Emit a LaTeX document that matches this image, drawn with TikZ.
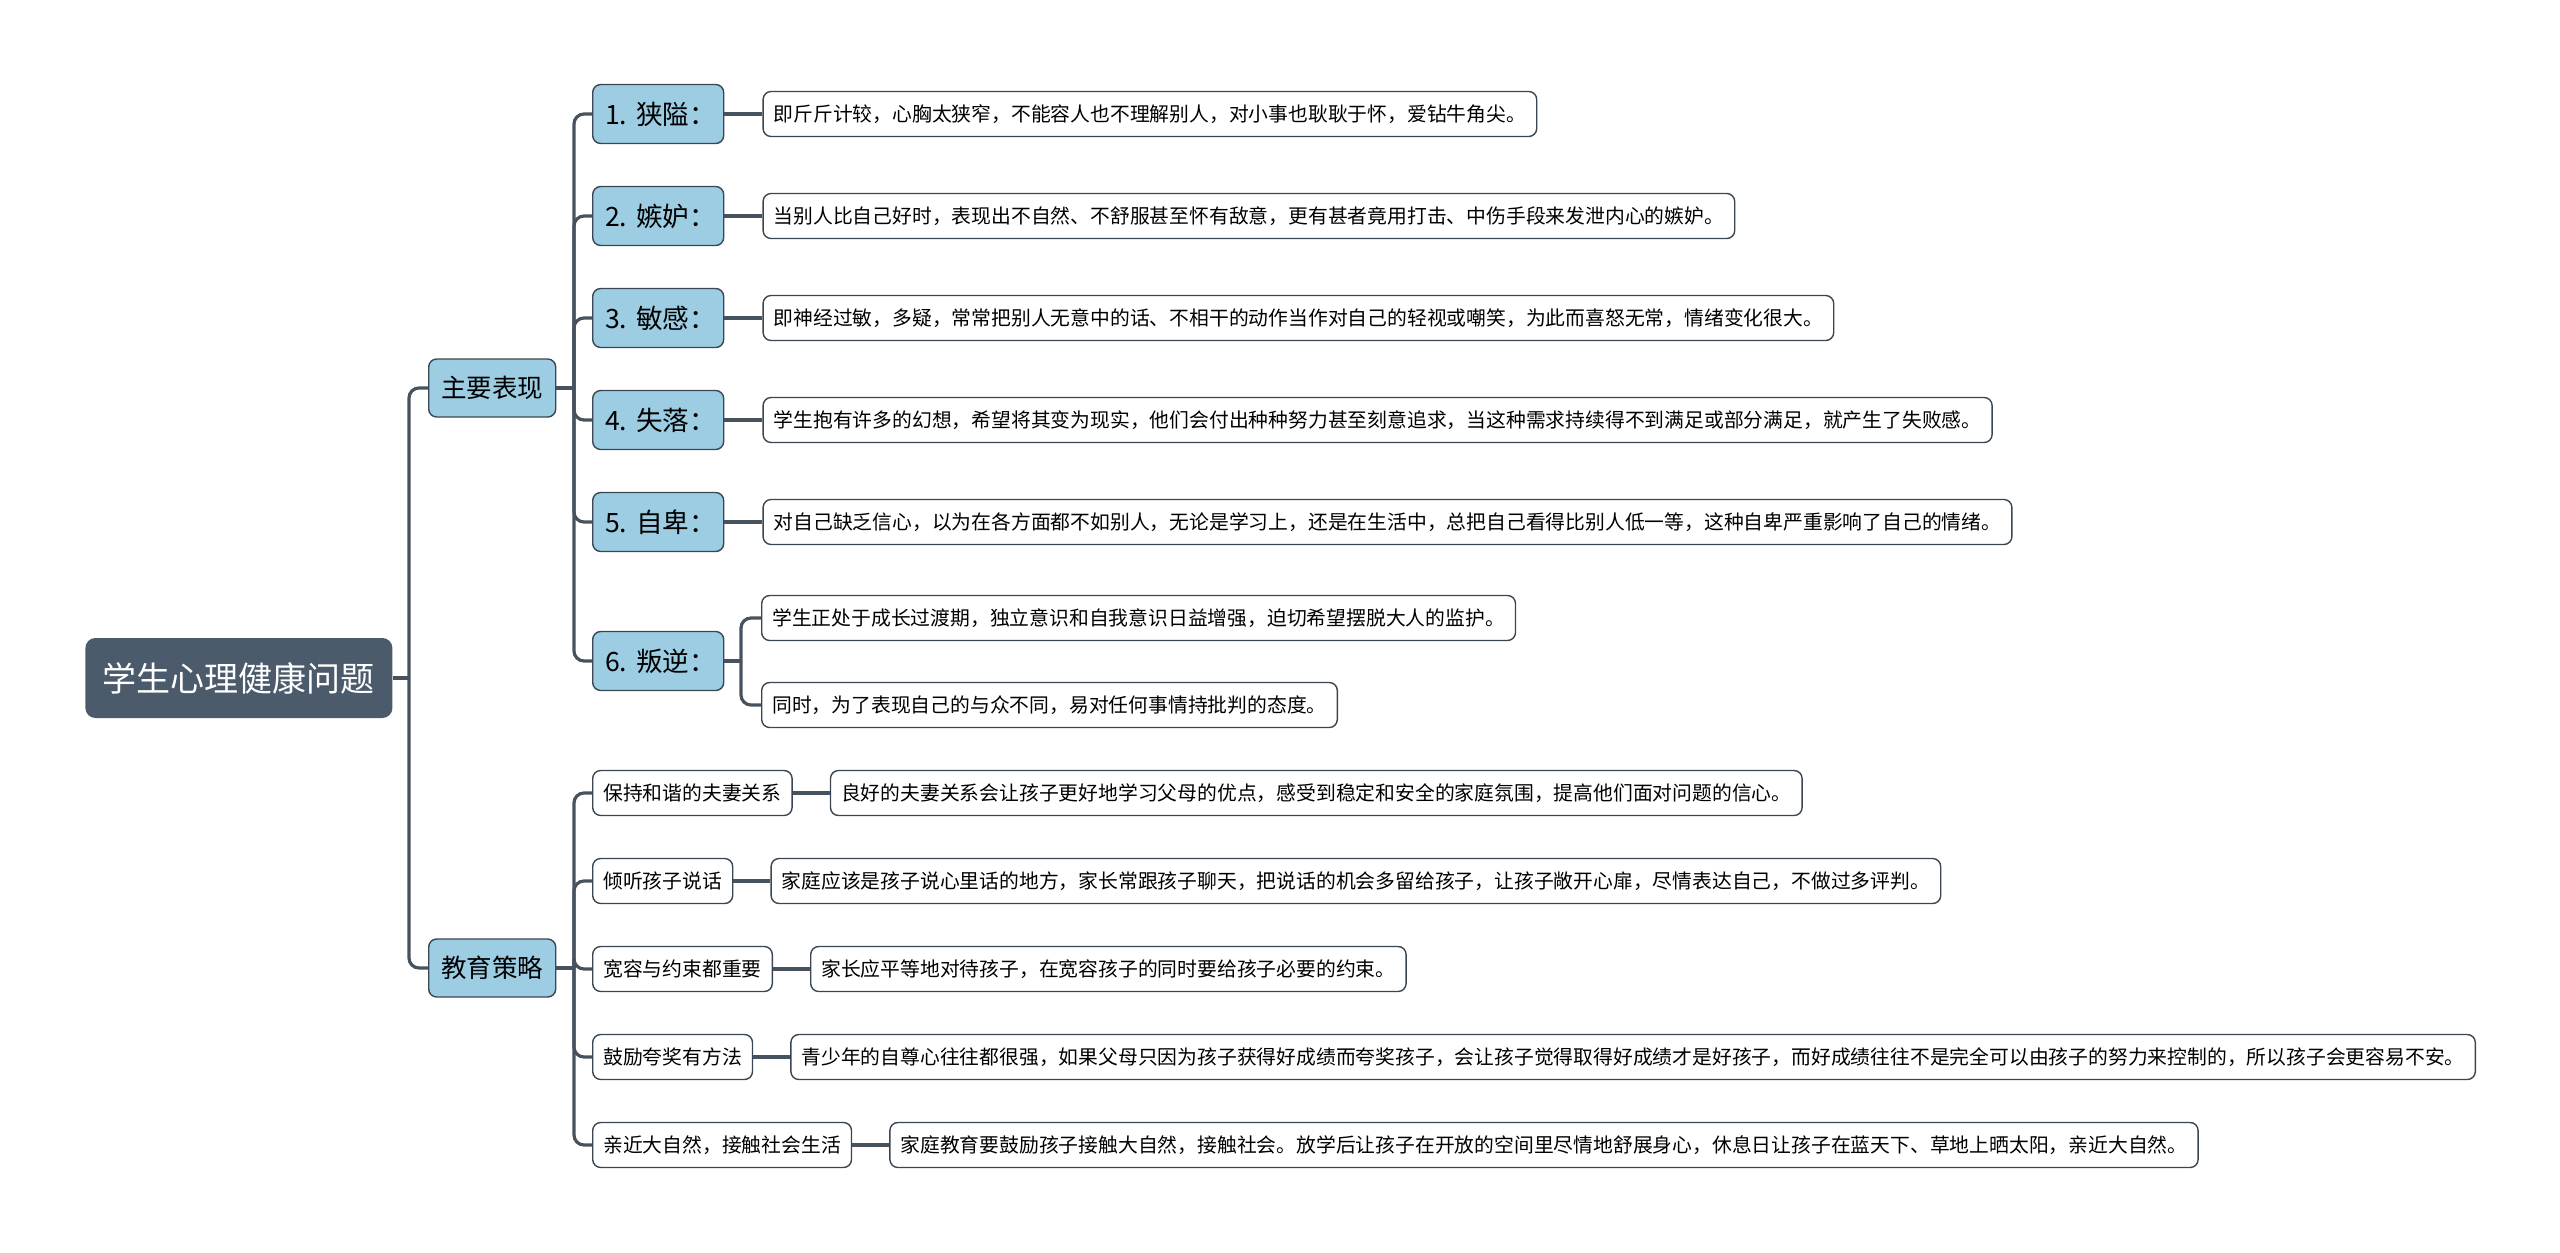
\documentclass[tikz,border=0pt]{standalone}
\usepackage{fontspec}
\setmainfont{Noto Sans CJK SC}
\usetikzlibrary{positioning}

\definecolor{linegray}{HTML}{46535F}
\definecolor{rootfill}{HTML}{4B5B6B}
\definecolor{topicblue}{HTML}{9DCDE3}
\definecolor{boxborder}{HTML}{3A4753}

\begin{document}
\begin{tikzpicture}[
    x=0.5pt, y=-0.5pt,
    node distance=19pt,
    rootbox/.style={rectangle, rounded corners=5pt, fill=rootfill, text=white, font=\fontsize{17pt}{20pt}\selectfont, minimum width=153.5pt, minimum height=40pt, inner sep=0pt, anchor=west},
    mainbox/.style={rectangle, rounded corners=4pt, draw=boxborder, line width=0.7pt, fill=topicblue, font=\fontsize{12.75pt}{15pt}\selectfont, minimum width=63.5pt, minimum height=29pt, inner sep=0pt, anchor=west},
    itembox/.style={rectangle, rounded corners=4pt, draw=boxborder, line width=0.7pt, fill=topicblue, font=\fontsize{13.3pt}{16pt}\selectfont, text width=53pt, align=left, inner xsep=6.25pt, inner ysep=0pt, minimum height=29.5pt, anchor=west},
    notebox/.style={rectangle, rounded corners=4pt, draw=boxborder, line width=0.7pt, fill=white, font=\fontsize{9.9pt}{12pt}\selectfont, inner xsep=5.3pt, inner ysep=0pt, minimum height=22.5pt},
    link/.style={draw=linegray, line width=1.6pt},
    fork/.style={link, rounded corners=5pt}
]
\useasboundingbox (0,0) rectangle (2560,1253);

% Nodes
\node (root) [rootbox] at (85,678) {学生心理健康问题};
\node (biaoxian) [mainbox] at (428,388) {主要表现};
\node (celue) [mainbox] at (428,968) {教育策略};

\node (xiaai) [itembox] at (592,114) {1.~狭隘：};
\node (jidu) [itembox] at (592,216) {2.~嫉妒：};
\node (mingan) [itembox] at (592,318) {3.~敏感：};
\node (shiluo) [itembox] at (592,420) {4.~失落：};
\node (zibei) [itembox] at (592,522) {5.~自卑：};
\node (panni) [itembox] at (592,661) {6.~叛逆：};

\node (xiaai-d) [notebox, right=of xiaai] {即斤斤计较，心胸太狭窄，不能容人也不理解别人，对小事也耿耿于怀，爱钻牛角尖。};
\node (jidu-d) [notebox, right=of jidu] {当别人比自己好时，表现出不自然、不舒服甚至怀有敌意，更有甚者竟用打击、中伤手段来发泄内心的嫉妒。};
\node (mingan-d) [notebox, right=of mingan] {即神经过敏，多疑，常常把别人无意中的话、不相干的动作当作对自己的轻视或嘲笑，为此而喜怒无常，情绪变化很大。};
\node (shiluo-d) [notebox, right=of shiluo] {学生抱有许多的幻想，希望将其变为现实，他们会付出种种努力甚至刻意追求，当这种需求持续得不到满足或部分满足，就产生了失败感。};
\node (zibei-d) [notebox, right=of zibei] {对自己缺乏信心，以为在各方面都不如别人，无论是学习上，还是在生活中，总把自己看得比别人低一等，这种自卑严重影响了自己的情绪。};
\node (panni-a) [notebox, anchor=west] at (761,618) {学生正处于成长过渡期，独立意识和自我意识日益增强，迫切希望摆脱大人的监护。};
\node (panni-b) [notebox, anchor=west] at (761,705) {同时，为了表现自己的与众不同，易对任何事情持批判的态度。};

\node (fuqi) [notebox, anchor=west] at (592,793) {保持和谐的夫妻关系};
\node (qingting) [notebox, anchor=west] at (592,881) {倾听孩子说话};
\node (kuanrong) [notebox, anchor=west] at (592,969) {宽容与约束都重要};
\node (guli) [notebox, anchor=west] at (592,1057) {鼓励夸奖有方法};
\node (ziran) [notebox, anchor=west] at (592,1145) {亲近大自然，接触社会生活};

\node (fuqi-d) [notebox, right=18.5pt of fuqi] {良好的夫妻关系会让孩子更好地学习父母的优点，感受到稳定和安全的家庭氛围，提高他们面对问题的信心。};
\node (qingting-d) [notebox, right=18.5pt of qingting] {家庭应该是孩子说心里话的地方，家长常跟孩子聊天，把说话的机会多留给孩子，让孩子敞开心扉，尽情表达自己，不做过多评判。};
\node (kuanrong-d) [notebox, right=18.5pt of kuanrong] {家长应平等地对待孩子，在宽容孩子的同时要给孩子必要的约束。};
\node (guli-d) [notebox, right=18.5pt of guli] {青少年的自尊心往往都很强，如果父母只因为孩子获得好成绩而夸奖孩子，会让孩子觉得取得好成绩才是好孩子，而好成绩往往不是完全可以由孩子的努力来控制的，所以孩子会更容易不安。};
\node (ziran-d) [notebox, right=18.5pt of ziran] {家庭教育要鼓励孩子接触大自然，接触社会。放学后让孩子在开放的空间里尽情地舒展身心，休息日让孩子在蓝天下、草地上晒太阳，亲近大自然。};

% Connectors
\coordinate (rootfork) at (409,678);
\coordinate (bxfork) at (574,388);
\coordinate (clfork) at (574,968);
\coordinate (pnfork) at (741,661);

\draw [link] (root.east) -- (rootfork);
\draw [fork] (rootfork) |- (biaoxian.west);
\draw [fork] (rootfork) |- (celue.west);

\draw [link] (biaoxian.east) -- (bxfork);
\foreach \n in {xiaai, jidu, mingan, shiluo, zibei, panni}
    \draw [fork] (bxfork) |- (\n.west);
\foreach \n in {xiaai, jidu, mingan, shiluo, zibei}
    \draw [link] (\n.east) -- (\n-d.west);

\draw [link] (panni.east) -- (pnfork);
\draw [fork] (pnfork) |- (panni-a.west);
\draw [fork] (pnfork) |- (panni-b.west);

\draw [link] (celue.east) -- (clfork);
\foreach \n in {fuqi, qingting, kuanrong, guli, ziran} {
    \draw [fork] (clfork) |- (\n.west);
    \draw [link] (\n.east) -- (\n-d.west);
}

\end{tikzpicture}
\end{document}
